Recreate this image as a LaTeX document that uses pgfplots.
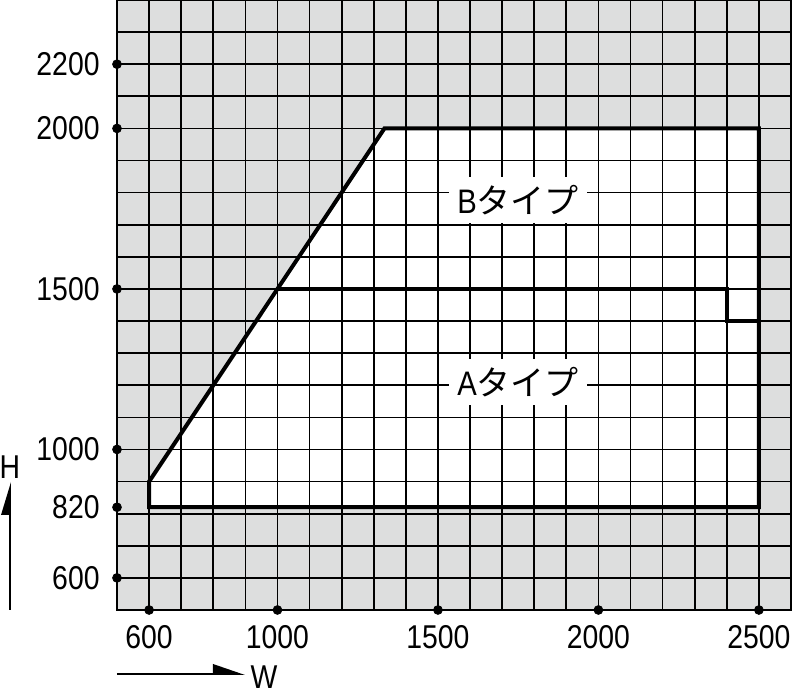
\documentclass[border=0pt]{standalone}
\usepackage{pgfplots}
\pgfplotsset{compat=1.18}
\usepackage{fontspec}
\setmainfont{Liberation Sans}[FakeStretch=0.86]
\newfontfamily\cjk{Noto Sans CJK JP}
\definecolor{bggray}{RGB}{221,222,222}
\begin{document}
\begin{tikzpicture}
\path[use as bounding box] (-58.5pt,-42pt) rectangle (341.5pt,305pt);
\begin{axis}[
  scale only axis, width=337pt, height=305pt,
  xmin=500, xmax=2600, ymin=500, ymax=2400,
  axis background/.style={fill=bggray},
  xtick={600,1000,1500,2000,2500},
  ytick={600,820,1000,1500,2000,2200},
  minor xtick={500,600,...,2600},
  minor ytick={500,600,...,2400},
  xmajorgrids=false, ymajorgrids=false,
  xminorgrids=true, yminorgrids=true,
  minor grid style={black,line width=0.85pt},
  major tick length=0pt, minor tick length=0pt,
  axis line style={black,line width=0.85pt},
  axis on top, clip=false,
  scaled ticks=false,
  /pgf/number format/1000 sep={},
  /pgf/number format/assume math mode=true,
  ticklabel style={font=\fontsize{16.5}{18}\selectfont},
  yticklabel style={inner sep=0pt,xshift=-8.5pt},
  xticklabel style={inner sep=0pt,yshift=-7.5pt},
]
% usable region (white)
\addplot[fill=white,draw=none] coordinates {(600,820) (600,900) (1333.3,2000) (2500,2000) (2500,820) (600,820)};
% outline
\addplot[black,line width=2pt,line join=miter] coordinates {(600,820) (600,900) (1333.3,2000) (2500,2000) (2500,820) (600,820) (600,900)};
% A/B boundary
\addplot[black,line width=2pt,line join=miter] coordinates {(1000,1500) (2400,1500) (2400,1400) (2500,1400)};
% tick dots
\addplot[only marks,mark=*,mark size=2.2pt,black] coordinates {(500,600) (500,820) (500,1000) (500,1500) (500,2000) (500,2200)};
\addplot[only marks,mark=*,mark size=2.2pt,black] coordinates {(600,500) (1000,500) (1500,500) (2000,500) (2500,500)};
\coordinate (lb) at (axis cs:1750,1778);
\coordinate (la) at (axis cs:1750,1210);
\end{axis}
\node[fill=white,inner xsep=4pt,inner ysep=4pt,font=\fontsize{17}{18}\selectfont] at (lb) {B{\cjk タイプ}};
\node[fill=white,inner xsep=4pt,inner ysep=4pt,font=\fontsize{17}{18}\selectfont] at (la) {A{\cjk タイプ}};
% H arrow
\draw[black,line width=0.9pt] (-53.5pt,0pt) -- (-53.5pt,56pt);
\fill[black] (-53pt,64pt) -- (-53pt,47.5pt) -- (-58pt,47.5pt) -- cycle;
\node[font=\fontsize{16.5}{18}\selectfont] at (-53.5pt,71.5pt) {H};
% W arrow
\draw[black,line width=0.9pt] (0pt,-32pt) -- (56pt,-32pt);
\fill[black] (64pt,-32.5pt) -- (48pt,-32.5pt) -- (48pt,-27pt) -- cycle;
\node[font=\fontsize{16.5}{18}\selectfont] at (73.5pt,-33.5pt) {W};
\end{tikzpicture}
\end{document}
